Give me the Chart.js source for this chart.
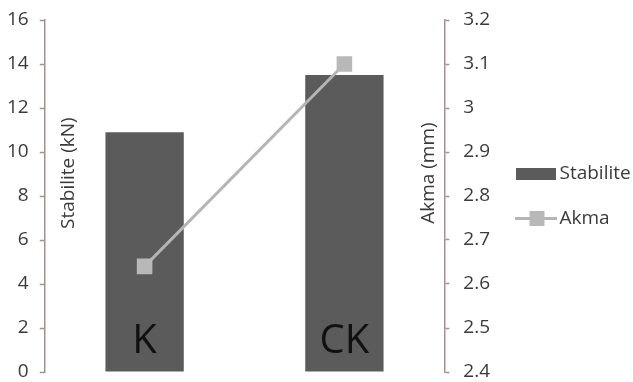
<!DOCTYPE html>
<html>
<head>
<meta charset="utf-8">
<script src="https://cdn.jsdelivr.net/npm/chart.js@4"></script>
<style>
  html, body { margin: 0; padding: 0; background: #fff; }
  #wrap { width: 633px; height: 382px; }
</style>
</head>
<body>
<div id="wrap"><canvas id="stabChart"></canvas></div>
<script>
const categories = ["K", "CK"];
const stabilite = [10.9, 13.5];
const akma = [2.64, 3.1];
const leftTicks = [0, 2, 4, 6, 8, 10, 12, 14, 16];
const rightTicks = [2.4, 2.5, 2.6, 2.7, 2.8, 2.9, 3, 3.1, 3.2];

const axisColor = '#a3928a';
const textColor = '#3a3a3a';
const barColor = '#5b5b5b';
const lineColor = '#b5b5b5';
const fontFamily = "'Open Sans', sans-serif";

// legend symbols
function barSymbol() {
  const c = document.createElement('canvas');
  c.width = 40; c.height = 12;
  const g = c.getContext('2d');
  g.fillStyle = barColor;
  g.fillRect(0, 0, 40, 12);
  return c;
}
function lineSymbol() {
  const c = document.createElement('canvas');
  c.width = 42; c.height = 15;
  const g = c.getContext('2d');
  g.strokeStyle = lineColor;
  g.lineWidth = 3;
  g.beginPath();
  g.moveTo(0, 7.5);
  g.lineTo(42, 7.5);
  g.stroke();
  g.fillStyle = '#b8b8b8';
  g.fillRect(15, 0, 15, 15);
  return c;
}

// axis titles sit inside the plot, category names sit inside the bars
const innerText = {
  id: 'innerText',
  afterDatasetsDraw(chart) {
    const { ctx, chartArea, scales } = chart;
    const midY = chartArea.top + (chartArea.bottom - chartArea.top) * 0.435;
    ctx.save();
    ctx.fillStyle = textColor;
    ctx.font = '19px ' + fontFamily;
    ctx.textAlign = 'center';
    ctx.textBaseline = 'middle';
    ctx.translate(scales.y.right + 24, midY);
    ctx.rotate(-Math.PI / 2);
    ctx.fillText('Stabilite (kN)', 0, 0);
    ctx.restore();

    ctx.save();
    ctx.fillStyle = textColor;
    ctx.font = '19px ' + fontFamily;
    ctx.textAlign = 'center';
    ctx.textBaseline = 'middle';
    ctx.translate(scales.y1.left - 16, midY);
    ctx.rotate(-Math.PI / 2);
    ctx.fillText('Akma (mm)', 0, 0);
    ctx.restore();

    ctx.save();
    ctx.fillStyle = '#111';
    ctx.font = '40px ' + fontFamily;
    ctx.textAlign = 'center';
    ctx.textBaseline = 'middle';
    categories.forEach((c, i) => {
      ctx.fillText(c, scales.x.getPixelForValue(i), chartArea.bottom - 30);
    });
    ctx.restore();
  }
};

// no extra room above/below the value axes beyond layout.padding
function trimPadding(s) {
  s.paddingTop = 0;
  s.paddingBottom = 0;
}

new Chart(document.getElementById('stabChart'), {
  data: {
    labels: categories,
    datasets: [
      {
        type: 'bar',
        label: 'Stabilite',
        data: stabilite,
        backgroundColor: barColor,
        yAxisID: 'y',
        order: 1,
        categoryPercentage: 0.8,
        barPercentage: 0.49
      },
      {
        type: 'line',
        label: 'Akma',
        data: akma,
        borderColor: lineColor,
        borderWidth: 3,
        pointStyle: 'rect',
        pointRadius: 11,
        pointBackgroundColor: '#b8b8b8',
        pointBorderWidth: 0,
        yAxisID: 'y1',
        order: 0
      }
    ]
  },
  options: {
    responsive: true,
    maintainAspectRatio: false,
    animation: false,
    layout: { autoPadding: false, padding: { top: 20, bottom: 10, left: 0, right: 0 } },
    plugins: {
      tooltip: { enabled: false },
      legend: {
        position: 'right',
        maxWidth: 138,
        labels: {
          usePointStyle: true,
          generateLabels: (chart) => chart.data.datasets.map((ds, i) => ({
            text: ds.label,
            pointStyle: i === 0 ? barSymbol() : lineSymbol(),
            fillStyle: 'transparent',
            strokeStyle: 'transparent',
            lineWidth: 0,
            fontColor: textColor,
            datasetIndex: i,
            hidden: false
          })),
          pointStyleWidth: 29,
          boxHeight: 19,
          padding: 26,
          color: textColor,
          font: { size: 19, family: fontFamily }
        }
      }
    },
    scales: {
      x: {
        display: false,
        offset: true
      },
      y: {
        position: 'left',
        min: 0,
        max: 16,
        afterBuildTicks: (s) => { s.ticks = leftTicks.map(v => ({ value: v })); },
        afterFit: (s) => { trimPadding(s); s.width -= 4; },
        ticks: { color: textColor, padding: 11, font: { size: 19, family: fontFamily } },
        grid: { drawOnChartArea: false, color: axisColor, tickLength: 5, tickWidth: 1.5 },
        border: { color: axisColor, width: 1.5 }
      },
      y1: {
        position: 'right',
        min: 2.4,
        max: 3.2,
        afterBuildTicks: (s) => { s.ticks = rightTicks.map(v => ({ value: v })); },
        afterFit: (s) => { trimPadding(s); s.width -= 9; },
        ticks: {
          color: textColor,
          padding: 14,
          font: { size: 19, family: fontFamily },
          callback: (v) => String(Math.round(v * 10) / 10)
        },
        grid: { drawOnChartArea: false, color: axisColor, tickLength: 5, tickWidth: 1.5 },
        border: { color: axisColor, width: 1.5 }
      }
    }
  },
  plugins: [innerText]
});
</script>
</body>
</html>
